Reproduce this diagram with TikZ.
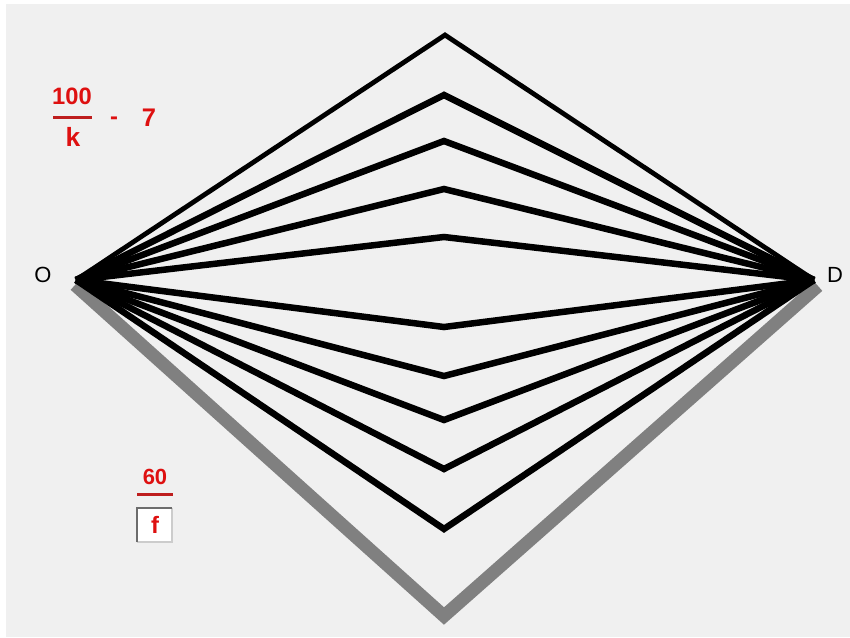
\documentclass[tikz,border=0pt]{standalone}
\usepackage{fontspec}
\setmainfont{Liberation Sans}
\usepackage{tikz}

\definecolor{panel}{RGB}{240,240,240}
\definecolor{labred}{RGB}{222,16,16}
\definecolor{barred}{RGB}{190,30,30}
\definecolor{shadowgray}{RGB}{128,128,128}

\begin{document}
\begin{tikzpicture}[x=0.02cm, y=-0.02cm,
    fan/.style={line width=6.5*0.02cm, black},
    rim/.style={line width=4.8*0.02cm, black},
    shade/.style={line width=13*0.02cm, shadowgray},
    redlab/.style={text=labred, inner sep=0, font=\fontsize{13.5}{15}\selectfont\bfseries},
    corner/.style={inner sep=0, font=\fontsize{12.5}{14}\selectfont},
    fbar/.style={line width=3*0.02cm, barred}]
  \useasboundingbox (0,0) rectangle (850,637);
  \fill[white] (0,0) rectangle (850,637);
  \fill[panel] (6,4) rectangle (850,637);

  % end points of the fan
  \coordinate (O) at (76,280);
  \coordinate (D) at (814,280);
  \node[corner] (labO) at (43,275) {O};
  \node[corner] (labD) at (835,275) {D};

  % grey lower rim
  \coordinate (lowtip) at (444,616);
  \draw[shade] (75,285) -- (lowtip) -- (818,286);

  % outer upper rim
  \coordinate (toptip) at (445,35);
  \draw[rim] (O) -- (toptip) -- (D);

  % the fan of broken lines
  \foreach \h [count=\i] in {95,141,189,237,327,376,420,469,529} {
    \coordinate (tip\i) at (444,\h);
    \draw[fan] (O) -- (tip\i) -- (D);
  }

  % 100/k - 7
  \node[redlab] (hundred) at (72,96) {100};
  \draw[fbar] (53,117) -- (92,117);
  \node[redlab, font=\fontsize{15}{17}\selectfont\bfseries] (kk) at (73,137) {k};
  \node[redlab] (minus) at (114,121) {-};
  \node[redlab, font=\fontsize{14.5}{16}\selectfont\bfseries] (seven) at (149,118) {7};

  % 60/f
  \node[redlab, font=\fontsize{12.5}{14}\selectfont\bfseries] (sixty) at (155,477) {60};
  \draw[fbar] (137,494) -- (173,494);
  \fill[white] (137,508) rectangle (172,542);
  \draw[line width=0.03cm, gray!40] (137,542) -- (172,542) -- (172,508);
  \draw[line width=0.04cm, gray!85!black] (137,542) -- (137,508) -- (172,508);
  \node[redlab] (ff) at (155,525) {f};
\end{tikzpicture}
\end{document}
